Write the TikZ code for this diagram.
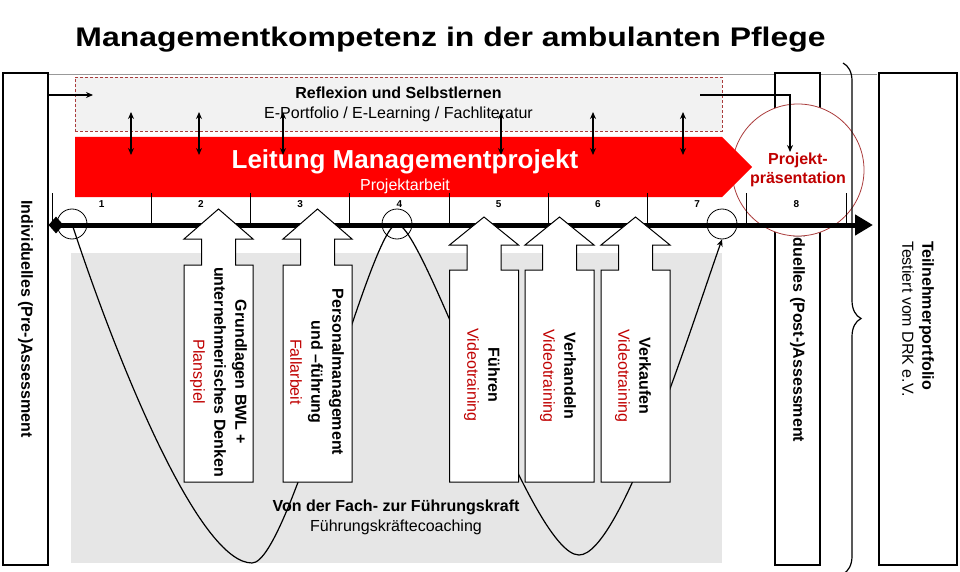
\documentclass[tikz,border=0pt]{standalone}
\usepackage{fontspec}
\usepackage{graphicx}
\setmainfont{Liberation Sans}
\usetikzlibrary{shapes.geometric, arrows.meta, positioning, decorations.pathreplacing}

\definecolor{bannerred}{RGB}{255,0,0}
\definecolor{textred}{RGB}{192,0,0}
\definecolor{framered}{RGB}{170,60,60}
\definecolor{reflgray}{RGB}{242,242,242}
\definecolor{coachgray}{RGB}{230,230,230}

\tikzstyle{sidebox} = [rectangle, rotate=-90, draw=black, line width=1.5pt, fill=white, minimum width=492pt, inner sep=0pt, align=center, font=\fontsize{16}{20}\selectfont]
\tikzstyle{reflbox} = [rectangle, draw=framered, dash pattern=on 3pt off 2pt, fill=reflgray, minimum width=647pt, minimum height=54pt, align=center, font=\fontsize{16}{20}\selectfont]
\tikzstyle{blockarrow} = [draw=black, line width=1pt, fill=white]
\tikzstyle{blocktext} = [rotate=-90, align=center, font=\fontsize{16}{21}\selectfont]
\tikzstyle{marker} = [circle, draw=black, line width=0.8pt, minimum size=30pt, inner sep=0pt]
\tikzstyle{num} = [anchor=base, font=\fontsize{10}{12}\selectfont\bfseries]
\tikzstyle{arrow} = [line width=1.2pt, -{Stealth[length=7pt, width=6pt]}]
\tikzstyle{dblarrow} = [line width=1.2pt, {Stealth[length=7pt, width=6pt]}-{Stealth[length=7pt, width=6pt]}]

\begin{document}
\begin{tikzpicture}[x=1pt, y=-1pt]
\useasboundingbox (0,0) rectangle (960,572);

% title
\node (title) [anchor=base] at (450.5,47) {\resizebox{750pt}{19.5pt}{\bfseries Managementkompetenz in der ambulanten Pflege}};
\draw [black!40, line width=0.6pt] (48,74) -- (877,74);

% coaching area
\node (coach) [fill=coachgray, minimum width=651pt, minimum height=310pt, inner sep=0pt] at (396.5,408) {};
\node (vonfach) [anchor=base, font=\fontsize{16}{20}\selectfont\bfseries] at (396,511) {Von der Fach- zur Führungskraft};
\node (coaching) [anchor=base, font=\fontsize{16}{20}\selectfont] at (396,531) {Führungskräftecoaching};

% reflection
\node (refl) [reflbox] at (398.5,104) {\textbf{Reflexion und Selbstlernen}\\E-Portfolio / E-Learning / Fachliteratur};

% assessment boxes
\node (pre) [sidebox, minimum height=45pt] at (25.5,319) {\textbf{Individuelles (Pre-)Assessment}};
\node (post) [sidebox, minimum height=45pt] at (797.5,319) {\textbf{Individuelles (Post-)Assessment}};
\node (portfolio) [sidebox, minimum height=78pt, align=left] at (918,319) {\textbf{Teilnehmerportfolio}\\Testiert vom DRK e.V.};

% presentation
\node (praes) [circle, draw=framered, line width=0.8pt, fill=white, minimum size=132pt, inner sep=0pt, align=center, text=textred, font=\fontsize{16}{19}\selectfont\bfseries] at (798,170) {Projekt-\\präsentation};

% project banner
\fill [bannerred] (75,137) -- (722,137) -- (752,167) -- (722,197) -- (75,197) -- cycle;
\node (leitung) [anchor=base, text=white, font=\fontsize{26}{30}\selectfont\bfseries] at (405,168) {Leitung Managementprojekt};
\node (projarb) [anchor=base, text=white, font=\fontsize{16}{20}\selectfont] at (405,190) {Projektarbeit};

% coaching curve
\node (m1) [marker] at (72,224) {};
\node (m4) [marker] at (397,224) {};
\node (m7) [marker] at (722,224) {};
\draw [arrow] (m1.center) .. controls (120,370) and (200,563) .. (252,563) .. controls (290,563) and (370,226) .. (m4.center) .. controls (425,226) and (530,555) .. (579,555) .. controls (620,555) and (690,330) .. (m7.south);

% time axis
\node (start) [diamond, fill=black, minimum width=15pt, minimum height=17pt, inner sep=0pt] at (56,225) {};
\coordinate (axisend) at (873,225);
\draw [line width=5pt, -{Triangle[length=18pt, width=20pt]}] (start.center) -- (axisend);
\foreach \x in {52,151.25,250.5,349.75,449,548.25,647.5,746.75,846}
	\draw [line width=0.8pt] (\x,193) -- (\x,225);
\foreach \n in {1,...,8}
	\node (n\n) [num] at ({2.4+99.25*\n},207) {\n};

% modules
\foreach \cx/\ya/\yw/\yn in {218.5/209/239/265, 317.5/209/239/265, 484/217/245/270, 559.5/217/245/270, 635.5/217/245/270}
	\draw [blockarrow] (\cx,\ya) -- ({\cx+34.5},\yw) -- ({\cx+17},\yw) -- ({\cx+17},\yn) -- ({\cx+34.5},\yn) -- ({\cx+34.5},482) -- ({\cx-34.5},482) -- ({\cx-34.5},\yn) -- ({\cx-17},\yn) -- ({\cx-17},\yw) -- ({\cx-34.5},\yw) -- cycle;
\node (bwl) [blocktext] at (218.5,372) {\textbf{Grundlagen BWL +}\\\textbf{unternehmerisches Denken}\\\textcolor{textred}{Planspiel}};
\node (personal) [blocktext] at (317,372) {\textbf{Personalmanagement}\\\textbf{und –führung}\\\textcolor{textred}{Fallarbeit}};
\node (fuehren) [blocktext] at (482,375) {\textbf{Führen}\\\textcolor{textred}{Videotraining}};
\node (verhandeln) [blocktext] at (558,376) {\textbf{Verhandeln}\\\textcolor{textred}{Videotraining}};
\node (verkaufen) [blocktext] at (633,376) {\textbf{Verkaufen}\\\textcolor{textred}{Videotraining}};

% links between reflection and project
\foreach \i/\x in {1/131,2/199,3/283,4/501,5/593,6/683} {
	\coordinate (up\i) at (\x,112);
	\coordinate (dn\i) at (\x,155);
	\draw [dblarrow] (up\i) -- (dn\i);
}
\coordinate (reflin) at (93,95);
\draw [arrow] (pre.north |- reflin) -- (reflin);
\coordinate (reflout) at (700,95);
\coordinate (praesin) at (790,152);
\draw [arrow] (reflout) -| (praesin);

% brace
\draw [decorate, decoration={brace, amplitude=18pt}, line width=1.2pt] (843,63) -- (843,574);
\end{tikzpicture}
\end{document}
